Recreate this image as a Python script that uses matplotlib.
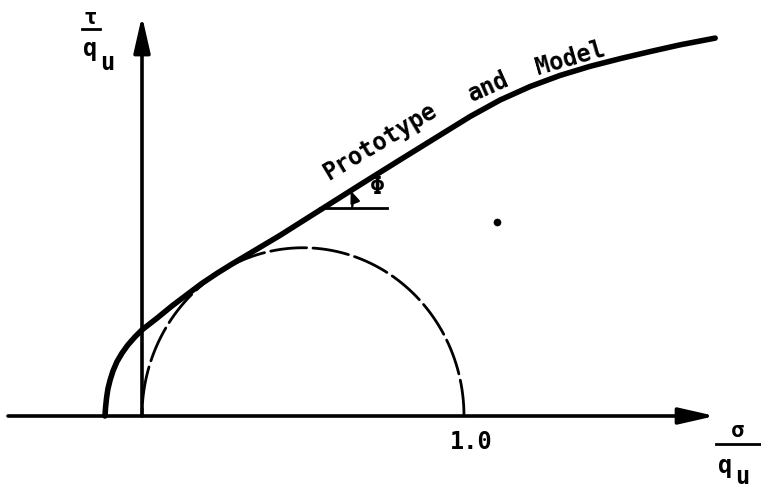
import numpy as np
import matplotlib.pyplot as plt

# failure envelope, normalised stresses (sigma/qu, tau/qu)
env_sigma = [-0.115, -0.113, -0.110, -0.106, -0.099, -0.090, -0.078, -0.062,
             -0.044, -0.022, 0.0, 0.047, 0.093, 0.140, 0.186, 0.233, 0.280,
             0.429, 0.553, 0.677, 0.801, 0.926, 1.019, 1.112, 1.205, 1.298,
             1.391, 1.485, 1.578, 1.671, 1.780]
env_tau = [0.0, 0.027, 0.054, 0.080, 0.107, 0.134, 0.161, 0.187,
           0.211, 0.235, 0.256, 0.291, 0.327, 0.361, 0.394, 0.424, 0.452,
           0.537, 0.612, 0.687, 0.761, 0.835, 0.890, 0.939, 0.979, 1.012,
           1.039, 1.062, 1.083, 1.103, 1.123]

# unconfined compression Mohr circle: sigma from 0 to qu
circle_lo = 0.0
circle_hi = 1.0
tick_labels = ['1.0']

# stray ink dot
dot_sigma = [1.102]
dot_tau = [0.577]

ink = 'black'
lettering = 'DejaVu Sans Mono'

fig = plt.figure(figsize=(7.61, 4.89), dpi=100)
ax = fig.add_axes([0, 0, 1, 1])
ax.set_xlim(-142 / 322, (761 - 142) / 322)
ax.set_ylim(-72 / 336.5, 417 / 336.5)
ax.axis('off')

# axes with arrow heads
arrow = dict(arrowstyle='-|>,head_length=1.1,head_width=0.25', color=ink,
             lw=2.6, mutation_scale=20, shrinkA=0, shrinkB=0)
ax.annotate('', xy=(1.780, 0), xytext=(-0.416, 0), arrowprops=arrow)
ax.annotate('', xy=(0, 1.189), xytext=(0, 0), arrowprops=arrow)

# dashed Mohr circle
c = (circle_lo + circle_hi) / 2
r = (circle_hi - circle_lo) / 2
t = np.linspace(0, np.pi, 200)
ax.plot(c + r * np.cos(t), r * np.sin(t), color=ink, lw=2.0,
        dashes=(13, 2.3), dash_capstyle='round')

# envelope
ax.plot(env_sigma, env_tau, color=ink, lw=4.0, solid_capstyle='round',
        solid_joinstyle='round')

# friction angle construction
ax.plot([0.553, 0.761], [0.618, 0.618], color=ink, lw=2.0)
ax.annotate('', xy=(0.648, 0.670), xytext=(0.652, 0.618),
            arrowprops=dict(arrowstyle='-|>,head_length=0.5,head_width=0.2',
                            color=ink, lw=1.6, mutation_scale=14,
                            shrinkA=0, shrinkB=0,
                            connectionstyle='arc3,rad=0.15'))
ax.text(0.730, 0.683, 'Φ', fontsize=18, family=lettering, fontweight='bold',
        ha='center', va='center')

ax.plot(dot_sigma, dot_tau, 'o', color=ink, ms=4.5)

# curve label, one word at a time following the envelope
words = [('Prototype', 0.739, 0.817, 31), ('and', 1.075, 0.981, 24),
         ('Model', 1.329, 1.067, 16)]
for w, x, y, rot in words:
    ax.text(x, y, w, fontsize=17, family=lettering, fontweight='bold',
            rotation=rot, rotation_mode='anchor', ha='center', va='center')

ax.text(1.022, -0.074, tick_labels[0], fontsize=17, family=lettering,
        fontweight='bold', ha='center', va='center')

# axis titles as stacked fractions
ax.text(-0.161, 1.186, 'τ', fontsize=16, family=lettering, fontweight='bold',
        ha='center', va='center')
ax.plot([-0.186, -0.130], [1.150, 1.150], color=ink, lw=2.0)
ax.text(-0.161, 1.094, 'q', fontsize=17, family=lettering, fontweight='bold',
        ha='center', va='center')
ax.text(-0.109, 1.052, 'u', fontsize=17, family=lettering, fontweight='bold',
        ha='center', va='center')

ax.text(1.851, -0.042, 'σ', fontsize=16, family=lettering, fontweight='bold',
        ha='center', va='center')
ax.plot([1.783, 1.922], [-0.083, -0.083], color=ink, lw=2.0)
ax.text(1.811, -0.146, 'q', fontsize=17, family=lettering, fontweight='bold',
        ha='center', va='center')
ax.text(1.863, -0.178, 'u', fontsize=17, family=lettering, fontweight='bold',
        ha='center', va='center')

fig.savefig('out.png', dpi=100)
